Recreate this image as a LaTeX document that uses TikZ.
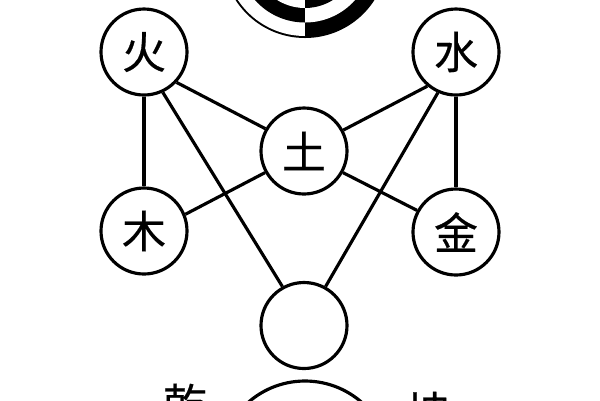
\documentclass[tikz,border=0pt]{standalone}
\usepackage{fontspec}
\newfontfamily\cjk[FakeBold=0.5]{Noto Sans CJK SC}
\tikzset{
  elem/.style     = {circle,draw,line width=0.9pt,minimum size=0.86cm,inner sep=0pt,font=\cjk\fontsize{12.5}{13}\selectfont},
  link/.style     = {line width=0.9pt},
  sidelabel/.style = {font=\cjk\fontsize{12.5}{13}\selectfont}
}
\newcommand{\ringpair}[3]{%
  \fill[#2] (disc) ++(90:#1) arc (90:270:#1) -- cycle;
  \fill[#3] (disc) ++(-90:#1) arc (-90:90:#1) -- cycle;
}
\begin{document}
\begin{tikzpicture}
  \path[use as bounding box,clip] (0,0) rectangle (6,4);
  \coordinate (disc) at (3.05,4.445);
  \ringpair{0.825}{black}{black}
  \ringpair{0.805}{white}{black}
  \ringpair{0.67}{black}{white}
  \ringpair{0.525}{white}{black}
  \node[elem] (fire)  at (1.44,3.48) {火};
  \node[elem] (water) at (4.56,3.48) {水};
  \node[elem] (earth) at (3.04,2.49) {土};
  \node[elem] (wood)  at (1.44,1.69) {木};
  \node[elem] (metal) at (4.56,1.68) {金};
  \node[elem] (gate)  at (3.04,0.745) {};
  \node[elem,minimum size=1.72cm] (base) at (3.05,-0.67) {};
  \node[sidelabel] (qian) at (1.85,-0.04) {乾};
  \node[sidelabel] (kun)  at (4.28,-0.12) {坤};
  \draw[link] (fire) -- (wood);
  \draw[link] (fire.-43) -- (earth.150);
  \draw[link] (fire.-65) -- (gate.119);
  \draw[link] (wood.22) -- (earth.209);
  \draw[link] (water) -- (metal);
  \draw[link] (water.230) -- (earth.28);
  \draw[link] (water.246) -- (gate.61);
  \draw[link] (metal.151) -- (earth.-29);
\end{tikzpicture}
\end{document}
